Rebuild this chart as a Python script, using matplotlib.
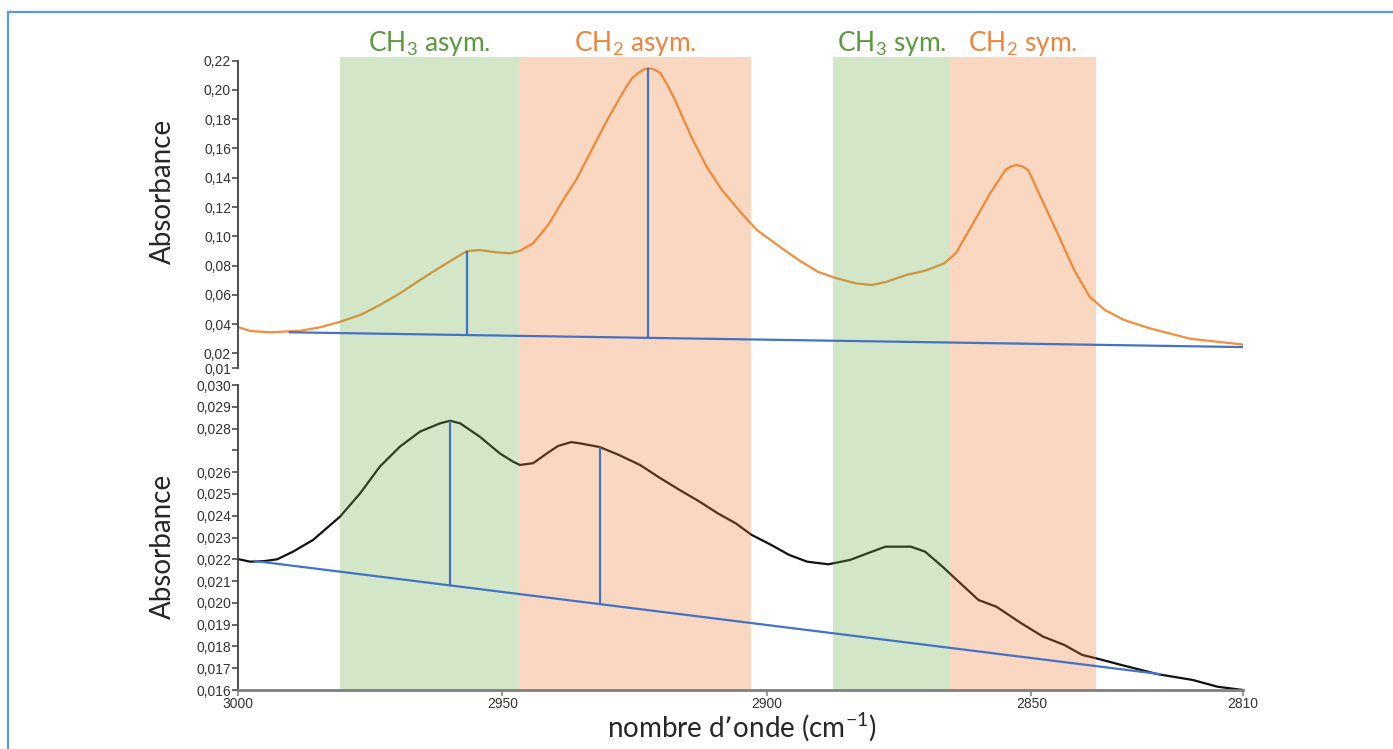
# -*- coding:utf-8 -*-
# Spectres IR : bandes CH2 / CH3 (asym. et sym.)
import matplotlib
matplotlib.use("Agg")
import matplotlib.pyplot as plt
import numpy as np
from matplotlib.lines import Line2D

plt.rcParams['font.family'] = ['Lato', 'DejaVu Sans']
plt.rcParams['mathtext.default'] = 'regular'

# spectre du haut (orange)
top_wn = [3000, 2997.7, 2994, 2988.3, 2984.5, 2980.7, 2976.9, 2973.2, 2969.4, 2965.6,
          2961.8, 2958, 2956.7, 2954.3, 2951, 2948.6, 2946.7, 2944.2, 2941.3, 2938.5,
          2936, 2933.8, 2930.2, 2926.6, 2925.5, 2924.4, 2923.4, 2922.4, 2921.3, 2920.1,
          2918.6, 2917.1, 2914.3, 2911.4,
          2908.5, 2904.8, 2901.9, 2897.6, 2894, 2890.4, 2886.8, 2883.1, 2880.2, 2877.4,
          2873.7, 2870.1, 2866.5, 2864.3, 2861.4, 2857.8, 2854.9, 2853.9, 2852.8, 2851.7,
          2850.6, 2847.7, 2844.8, 2841.9, 2839, 2836.1, 2832.5, 2827.6, 2820, 2810]
top_abs = [0.0380, 0.0353, 0.0344, 0.0354, 0.0378, 0.0416, 0.0462, 0.0530, 0.0610, 0.0701,
           0.0788, 0.0872, 0.0899, 0.0906, 0.0890, 0.0884, 0.0901, 0.0952, 0.1080, 0.1250,
           0.1390, 0.1544, 0.1795, 0.2022, 0.2080, 0.2114, 0.2138, 0.2148, 0.2140, 0.2114,
           0.2020, 0.1909, 0.1680, 0.1475,
           0.1316, 0.1157, 0.1043, 0.0929, 0.0838, 0.0758, 0.0713, 0.0678, 0.0667, 0.0689,
           0.0735, 0.0765, 0.0815, 0.0884, 0.1065, 0.1294, 0.1453, 0.1478, 0.1487, 0.1478,
           0.1453, 0.1225, 0.1000, 0.0769, 0.0587, 0.0496, 0.0428, 0.0371, 0.0300, 0.0260]

# spectre du bas (noir)
bot_wn = [3000, 2997.7, 2994.9, 2992.6, 2989.6, 2985.8, 2980.7, 2976.9, 2973.2, 2969.4,
          2965.6, 2961.8, 2959.9, 2958, 2954.3, 2950.5, 2948, 2946.7, 2944.2, 2941.6,
          2939.5, 2937, 2935.3, 2931.6, 2928, 2924, 2920.2, 2916.5, 2912.7, 2909.3,
          2905.9, 2902.9, 2899.2, 2895.8, 2892.4, 2888.4, 2884.3, 2880.9, 2877.6, 2872.8,
          2870.1, 2866.8, 2864.1, 2860, 2856.6, 2851.9, 2847.8, 2843.8, 2840.4, 2837.7,
          2833, 2826.2, 2819.5, 2814.8, 2810]
bot_abs = [0.02201, 0.02189, 0.02192, 0.02200, 0.02235, 0.02289, 0.02396, 0.02503, 0.02625, 0.02717,
           0.02786, 0.02824, 0.02836, 0.02824, 0.02763, 0.02686, 0.02648, 0.02633, 0.02641, 0.02686,
           0.02720, 0.02738, 0.02732, 0.02715, 0.02679, 0.02633, 0.02573, 0.02518, 0.02464, 0.02411,
           0.02365, 0.02312, 0.02266, 0.02220, 0.02189, 0.02177, 0.02197, 0.02228, 0.02258, 0.02258,
           0.02235, 0.02166, 0.02105, 0.02013, 0.01982, 0.01906, 0.01845, 0.01807, 0.01761, 0.01745,
           0.01715, 0.01673, 0.01646, 0.01615, 0.01600]

# lignes de base et pics
top_base_wn = [2990.2, 2810]
top_base_abs = [0.0344, 0.0243]
top_peak_wn = [2956.7, 2922.4]
top_peak_abs = [0.0899, 0.2148]
bot_base_wn = [2996.8, 2825.7]
bot_base_abs = [0.02192, 0.01673]
bot_peak_wn = [2959.9, 2931.6]
bot_peak_abs = [0.02836, 0.02715]

# zones d'attribution
band_labels = ['CH$_3$ asym.', 'CH$_2$ asym.', 'CH$_3$ sym.', 'CH$_2$ sym.']
band_start = [2980.7, 2946.9, 2887.5, 2865.4]
band_end = [2946.9, 2903.0, 2865.4, 2837.8]
band_kind = ['CH3', 'CH2', 'CH3', 'CH2']

top_ticks = [0.01, 0.02, 0.04, 0.06, 0.08, 0.10, 0.12, 0.14, 0.16, 0.18, 0.20, 0.22]
top_ticklabels = ['0,01', '0,02', '0,04', '0,06', '0,08', '0,10', '0,12', '0,14', '0,16',
                  '0,18', '0,20', '0,22']
bot_ticks = [0.016, 0.017, 0.018, 0.019, 0.020, 0.021, 0.022, 0.023, 0.024, 0.025,
             0.026, 0.027, 0.028, 0.029, 0.030]
bot_ticklabels = ['0,016', '0,017', '0,018', '0,019', '0,020', '0,021', '0,022', '0,023',
                  '0,024', '0,025', '0,026', '', '0,028', '0,029', '0,030']
x_ticks = [3000, 2950, 2900, 2850, 2810]

band_fill = {'CH3': '#70ad47', 'CH2': '#ed7d31'}
band_text = {'CH3': '#5a9a3c', 'CH2': '#f0823a'}
blue = '#4472c4'

fig = plt.figure(figsize=(13.93, 7.49), dpi=100)
W, H = 1393.0, 749.0
left, right = 238 / W, 1243 / W
ax1 = fig.add_axes([left, 1 - 368 / H, right - left, (368 - 60.7) / H])
ax2 = fig.add_axes([left, 1 - 690 / H, right - left, (690 - 385) / H])

tick_font = ['Liberation Sans Narrow', 'Liberation Sans', 'DejaVu Sans']

for ax in (ax1, ax2):
    ax.set_xlim(3000, 2810)
    ax.set_facecolor('none')
    ax.spines['top'].set_visible(False)
    ax.spines['right'].set_visible(False)
    ax.spines['left'].set_color('#404040')
    ax.spines['left'].set_linewidth(1.3)
    ax.tick_params(axis='y', direction='out', length=4, width=1.1, color='#404040',
                   labelsize=10, labelcolor='#333333', pad=1)

ax1.plot(top_wn, top_abs, color='#f28e3c', lw=1.6, zorder=1)
ax1.set_ylim(0.01, 0.22)
ax1.set_yticks(top_ticks)
ax1.set_yticklabels(top_ticklabels, family=tick_font)
ax1.spines['bottom'].set_visible(False)
ax1.set_xticks([])

ax2.plot(bot_wn, bot_abs, color='#111111', lw=1.6, zorder=1)
ax2.set_ylim(0.016, 0.030)
ax2.set_yticks(bot_ticks)
ax2.set_yticklabels(bot_ticklabels, family=tick_font)
ax2.set_xticks(x_ticks)
ax2.set_xticklabels([str(t) for t in x_ticks], family=tick_font)
ax2.spines['bottom'].set_color('#7f7f7f')
ax2.spines['bottom'].set_linewidth(2)
ax2.tick_params(axis='x', direction='out', length=4, width=1.1, color='#7f7f7f',
                labelsize=10, labelcolor='#333333', pad=1)

# bandes colorées (par-dessus les spectres, sous les traits bleus)
top_ext = (368 - 57) / (368 - 60.7)
bot_ext = (690 - 368) / (690 - 385)
lab_y = (368 - 44) / (368 - 60.7)
for s, e, k, lab in zip(band_start, band_end, band_kind, band_labels):
    ax1.axvspan(s, e, ymin=0, ymax=top_ext, color=band_fill[k], alpha=0.3, lw=0,
                zorder=2, clip_on=False)
    ax2.axvspan(s, e, ymin=0, ymax=bot_ext, color=band_fill[k], alpha=0.3, lw=0,
                zorder=2, clip_on=False)
    ax1.text((s + e) / 2, lab_y, lab, transform=ax1.get_xaxis_transform(),
             ha='center', va='center', fontsize=19, color=band_text[k])

# lignes de base + hauteurs de pic
ax1.plot(top_base_wn, top_base_abs, color=blue, lw=1.6, zorder=3)
ax1.vlines(top_peak_wn, np.interp(top_peak_wn, top_base_wn[::-1], top_base_abs[::-1]),
           top_peak_abs, color=blue, lw=1.6, zorder=3)
ax2.plot(bot_base_wn, bot_base_abs, color=blue, lw=1.6, zorder=3)
ax2.vlines(bot_peak_wn, np.interp(bot_peak_wn, bot_base_wn[::-1], bot_base_abs[::-1]),
           bot_peak_abs, color=blue, lw=1.6, zorder=3)

fig.text(163 / W, 1 - 191 / H, 'Absorbance', rotation=90, ha='center', va='center',
         fontsize=20, color='#262626')
fig.text(163 / W, 1 - 546 / H, 'Absorbance', rotation=90, ha='center', va='center',
         fontsize=20, color='#262626')
fig.text(742 / W, 1 - 727 / H, 'nombre d\u2019onde (cm$^{-1}$)', ha='center', va='center',
         fontsize=20, color='#262626')

# cadre bleu (haut et gauche)
fig.add_artist(Line2D([8 / W, 1], [1 - 12 / H, 1 - 12 / H], transform=fig.transFigure,
                      color='#5b9bd5', lw=1.6))
fig.add_artist(Line2D([8 / W, 8 / W], [0, 1 - 12 / H], transform=fig.transFigure,
                      color='#5b9bd5', lw=1.6))

fig.savefig('out.png', dpi=100)
